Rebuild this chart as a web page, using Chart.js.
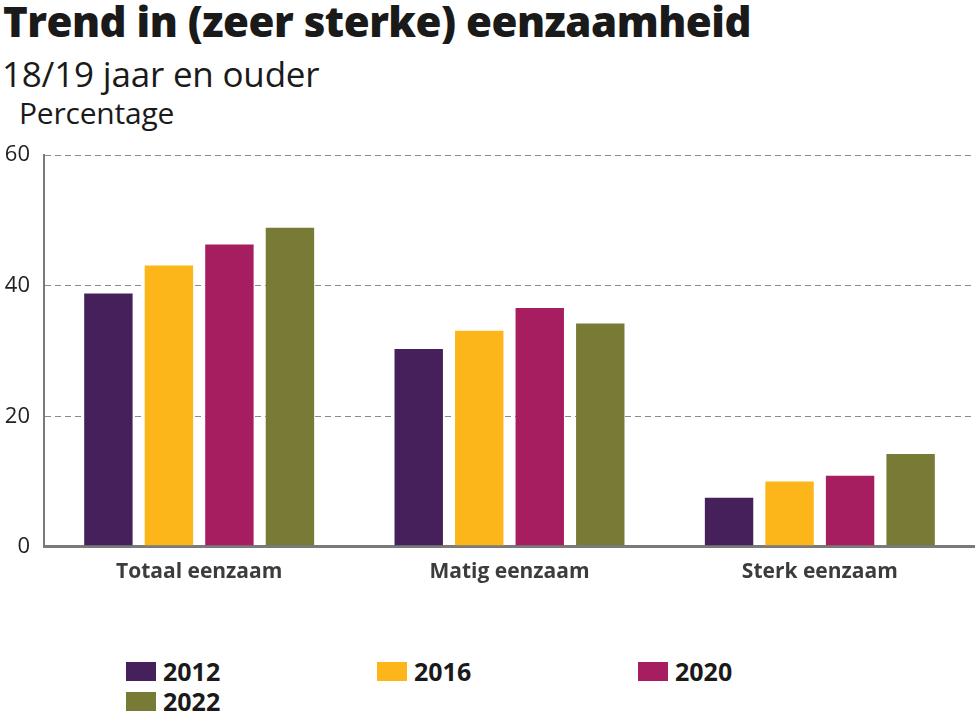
<!DOCTYPE html>
<html>
<head>
<meta charset="utf-8">
<script src="https://cdn.jsdelivr.net/npm/chart.js@4"></script>
<style>
  body { margin: 0; background: #fff; font-family: 'Open Sans', sans-serif; color: #1a1a1a; }
  #page { position: relative; width: 975px; height: 720px; overflow: hidden; }
  h1 { position: absolute; left: 3px; top: -8px; margin: 0; font-size: 42px; font-weight: 800; letter-spacing: -0.5px; }
  .sub { position: absolute; left: 2px; top: 50px; font-size: 35px; letter-spacing: -0.2px; }
  .unit { position: absolute; left: 19px; top: 92px; font-size: 30px; letter-spacing: -0.2px; }
  #wrap { position: absolute; left: 0; top: 128px; width: 975px; height: 470px; }
  #legend { position: absolute; left: 126px; top: 658px; display: grid;
            grid-template-columns: 251px 261px 200px; row-gap: 4px; }
  .item { display: flex; align-items: center; font-size: 25px; font-weight: 700; line-height: 26px; }
  .box { width: 30px; height: 19px; margin-right: 7px; }
</style>
</head>
<body>
<div id="page">
  <h1>Trend in (zeer sterke) eenzaamheid</h1>
  <div class="sub">18/19 jaar en ouder</div>
  <div class="unit">Percentage</div>
  <div id="wrap"><canvas id="chart"></canvas></div>
  <div id="legend"></div>
</div>
<script>
/* ----- data ----- */
const categories = ['Totaal eenzaam', 'Matig eenzaam', 'Sterk eenzaam'];
const years = ['2012', '2016', '2020', '2022'];
const values2012 = [38.8, 30.3, 7.5];
const values2016 = [43.1, 33.1, 10.0];
const values2020 = [46.3, 36.6, 10.9];
const values2022 = [48.9, 34.2, 14.2];
const yTicks = [0, 20, 40, 60];

const colors = ['#45205a', '#fdb61a', '#a71e60', '#787b35'];
const series = [values2012, values2016, values2020, values2022];

const chart = new Chart(document.getElementById('chart'), {
    type: 'bar',
    data: {
        labels: categories,
        datasets: years.map((y, i) => ({
            label: y,
            data: series[i],
            backgroundColor: colors[i],
            borderWidth: 0,
            barPercentage: 0.8,
            categoryPercentage: 0.78
        }))
    },
    options: {
        responsive: true,
        maintainAspectRatio: false,
        animation: false,
        layout: { padding: { left: 0, top: 1, right: 0, bottom: 0 } },
        plugins: {
            legend: { display: false },
            tooltip: { enabled: false }
        },
        scales: {
            y: {
                min: 0,
                max: 60,
                afterBuildTicks: (axis) => { axis.ticks = yTicks.map(v => ({ value: v })); },
                afterFit: (axis) => { axis.width = 44; },
                ticks: {
                    color: '#222',
                    padding: 14,
                    font: { family: 'Open Sans', size: 22 }
                },
                grid: {
                    drawTicks: false,
                    color: (ctx) => ctx.tick && ctx.tick.value === 0 ? '#7a7a7a' : '#8a8a8a',
                    lineWidth: (ctx) => ctx.tick && ctx.tick.value === 0 ? 3 : 1
                },
                border: {
                    color: '#7a7a7a',
                    width: 2,
                    dash: (ctx) => ctx.tick && ctx.tick.value === 0 ? [] : [6, 4]
                }
            },
            x: {
                ticks: {
                    color: '#3c3c3c',
                    padding: 13,
                    font: { family: 'Open Sans', size: 21, weight: '700' }
                },
                grid: { display: false, drawTicks: false },
                border: { color: '#7a7a7a', width: 3 }
            }
        }
    }
});

/* ----- legend built from the datasets ----- */
const legendEl = document.getElementById('legend');
chart.data.datasets.forEach(ds => {
    const item = document.createElement('div');
    item.className = 'item';
    item.innerHTML = `<span class="box" style="background:${ds.backgroundColor}"></span>${ds.label}`;
    legendEl.appendChild(item);
});
</script>
</body>
</html>
